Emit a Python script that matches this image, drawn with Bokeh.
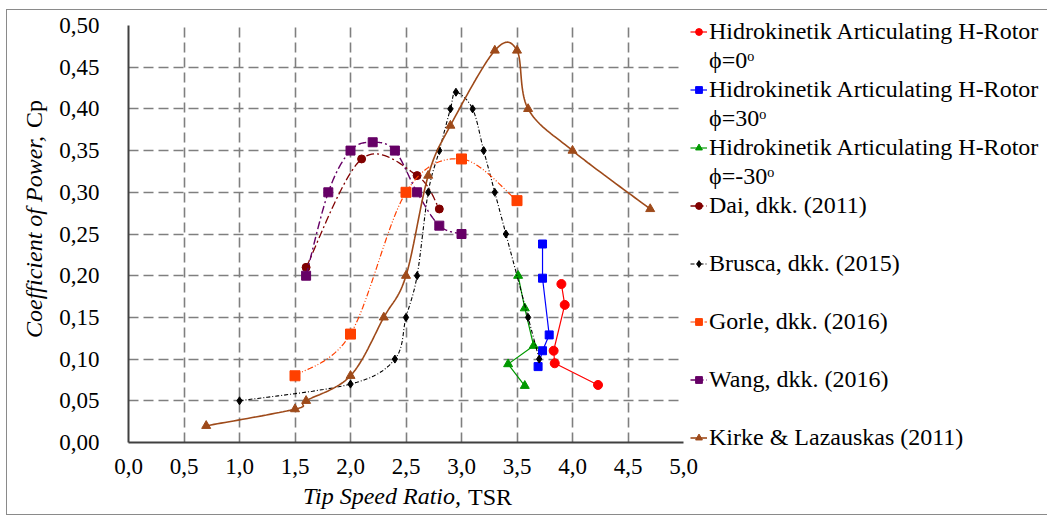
import numpy as np
from bokeh.plotting import figure
from bokeh.models import (Range1d, FixedTicker, CustomJSTickFormatter, Legend,
                          LegendItem, LinearAxis)
from bokeh.embed import file_html
from bokeh.resources import INLINE

# ---------------- data ----------------
x_ticks = [0.0, 0.5, 1.0, 1.5, 2.0, 2.5, 3.0, 3.5, 4.0, 4.5, 5.0]
x_labels = ["0,0", "0,5", "1,0", "1,5", "2,0", "2,5", "3,0", "3,5", "4,0", "4,5", "5,0"]
y_ticks = [0.0, 0.05, 0.10, 0.15, 0.20, 0.25, 0.30, 0.35, 0.40, 0.45, 0.50]
y_labels = ["0,00", "0,05", "0,10", "0,15", "0,20", "0,25", "0,30", "0,35", "0,40", "0,45", "0,50"]

h0_x = [3.90, 3.93, 3.83, 3.84, 4.23]
h0_y = [0.190, 0.165, 0.110, 0.095, 0.069]

h30_x = [3.73, 3.73, 3.79, 3.73, 3.69]
h30_y = [0.238, 0.197, 0.129, 0.110, 0.091]

hm30_x = [3.51, 3.57, 3.65, 3.42, 3.57]
hm30_y = [0.200, 0.161, 0.116, 0.094, 0.068]

dai_x = [1.6, 2.1, 2.6, 2.8]
dai_y = [0.21, 0.34, 0.32, 0.28]

brusca_x = [1.0, 2.0, 2.4, 2.5, 2.6, 2.7, 2.8, 2.9, 2.95, 3.1, 3.2, 3.3, 3.4, 3.6, 3.7]
brusca_y = [0.05, 0.07, 0.10, 0.15, 0.20, 0.30, 0.35, 0.40, 0.42, 0.40, 0.35, 0.30, 0.25, 0.15, 0.10]

gorle_x = [1.5, 2.0, 2.5, 3.0, 3.5]
gorle_y = [0.08, 0.13, 0.30, 0.34, 0.29]

wang_x = [1.6, 1.8, 2.0, 2.2, 2.4, 2.6, 2.8, 3.0]
wang_y = [0.20, 0.30, 0.35, 0.36, 0.35, 0.30, 0.26, 0.25]

kirke_x = [0.7, 1.5, 1.6, 2.0, 2.3, 2.5, 2.7, 2.9, 3.3, 3.5, 3.6, 4.0, 4.7]
kirke_y = [0.02, 0.04, 0.05, 0.08, 0.15, 0.20, 0.32, 0.38, 0.47, 0.47, 0.40, 0.35, 0.28]

series_names = [
    "Hidrokinetik Articulating H-Rotor",
    "Hidrokinetik Articulating H-Rotor",
    "Hidrokinetik Articulating H-Rotor",
    "Dai, dkk. (2011)",
    "Brusca, dkk. (2015)",
    "Gorle, dkk. (2016)",
    "Wang, dkk. (2016)",
    "Kirke & Lazauskas (2011)",
]
second_lines = ["ϕ=0ᵒ", "ϕ=30ᵒ", "ϕ=-30ᵒ", "", "", "", "", ""]

x_title_italic = "Tip Speed Ratio,"
x_title_plain = "TSR"
y_title_italic = "Coefficient of Power,"
y_title_plain = "Cp"


def smooth(xs, ys, n=24):
    """Excel-style smoothed line (Catmull-Rom Bezier) through the given points."""
    pts = np.column_stack([xs, ys]).astype(float)
    m = len(pts)
    out = [pts[0]]
    for i in range(m - 1):
        p0 = pts[i - 1] if i > 0 else pts[i]
        p1 = pts[i]
        p2 = pts[i + 1]
        p3 = pts[i + 2] if i + 2 < m else pts[i + 1]
        c1 = p1 + (p2 - p0) / 6.0
        c2 = p2 - (p3 - p1) / 6.0
        for t in np.linspace(0, 1, n)[1:]:
            b = ((1 - t) ** 3) * p1 + 3 * ((1 - t) ** 2) * t * c1 + 3 * (1 - t) * t * t * c2 + (t ** 3) * p2
            out.append(b)
    out = np.array(out)
    return out[:, 0], out[:, 1]


FONT = "'Liberation Serif', 'Times New Roman', serif"
NB = "\u00a0"
TITLE_SIZE = "24px"

p = figure(frame_width=555, frame_height=417, x_range=Range1d(0, 5), y_range=Range1d(0, 0.5),
           output_backend="svg", toolbar_location=None,
           min_border_left=121, min_border_right=0, min_border_top=15, min_border_bottom=72)
p.styles = {"border": "1px solid #8a8a8a", "margin-left": "6px", "margin-top": "9px"}
p.outline_line_color = None
p.background_fill_color = "white"
p.border_fill_color = "white"

# grid
for g, t in ((p.xgrid, x_ticks), (p.ygrid, y_ticks)):
    g.ticker = FixedTicker(ticks=t)
    g.grid_line_color = "#7f7f7f"
    g.grid_line_width = 1.6
    g.grid_line_dash = "10 5"

# axes
p.xaxis.ticker = FixedTicker(ticks=x_ticks)
p.yaxis.ticker = FixedTicker(ticks=y_ticks)
p.xaxis.formatter = CustomJSTickFormatter(args=dict(t=x_ticks, labels=x_labels), code="""
    let k = 0; for (let i = 0; i < t.length; i++) { if (Math.abs(t[i] - tick) < 1e-9) k = i; }
    return labels[k];""")
p.yaxis.formatter = CustomJSTickFormatter(args=dict(t=y_ticks, labels=y_labels), code="""
    let k = 0; for (let i = 0; i < t.length; i++) { if (Math.abs(t[i] - tick) < 1e-9) k = i; }
    return labels[k];""")
for ax in (p.xaxis, p.yaxis):
    ax.axis_line_color = "#404040"
    ax.axis_line_width = 2
    ax.major_tick_line_color = None
    ax.minor_tick_line_color = None
    ax.major_label_text_font = FONT
    ax.major_label_text_font_size = "23px"
    ax.major_label_text_color = "black"
    ax.axis_label_text_font = FONT
    ax.axis_label_text_font_size = TITLE_SIZE
    ax.axis_label_text_font_style = "italic"
    ax.axis_label_text_color = "black"
p.xaxis.major_label_standoff = 10
p.yaxis.major_label_standoff = 23
p.xaxis.axis_label_standoff = 6
p.yaxis.axis_label_standoff = 9
# italic part of the titles, padded with no-break spaces so the upright part fits after it
p.xaxis.axis_label = x_title_italic + NB * 8
p.yaxis.axis_label = NB * 5 + y_title_italic + NB * 6

# upright parts of the titles on helper axes (no line, ticks or labels)
xa2 = LinearAxis(axis_label=NB * 28 + x_title_plain, ticker=FixedTicker(ticks=[]),
                 axis_line_color=None, major_tick_line_color=None, minor_tick_line_color=None,
                 major_label_text_font_size="0px", axis_label_standoff=-28,
                 axis_label_text_font=FONT, axis_label_text_font_size=TITLE_SIZE,
                 axis_label_text_font_style="normal", axis_label_text_color="black")
ya2 = LinearAxis(axis_label=NB * 40 + y_title_plain, ticker=FixedTicker(ticks=[]),
                 axis_line_color=None, major_tick_line_color=None, minor_tick_line_color=None,
                 major_label_text_font_size="0px", axis_label_standoff=-28,
                 axis_label_text_font=FONT, axis_label_text_font_size=TITLE_SIZE,
                 axis_label_text_font_style="normal", axis_label_text_color="black")
p.add_layout(xa2, "below")
p.add_layout(ya2, "left")

styles = [
    dict(x=h0_x, y=h0_y, color="#FF0000", marker="circle", size=9, dash="solid", width=1.2, sm=False),
    dict(x=h30_x, y=h30_y, color="#0000FF", marker="square", size=8, dash="solid", width=1.2, sm=False),
    dict(x=hm30_x, y=hm30_y, color="#009900", marker="triangle", size=9, dash="solid", width=1.2, sm=False),
    dict(x=dai_x, y=dai_y, color="#800000", marker="circle", size=8, dash="8 3 2 3", width=1.3, sm=True),
    dict(x=brusca_x, y=brusca_y, color="#000000", marker="diamond", size=8, dash="4 2 1 2", width=1.1, sm=True),
    dict(x=gorle_x, y=gorle_y, color="#FF4000", marker="square", size=10, dash="6 2 1 2 1 2", width=1.2, sm=True),
    dict(x=wang_x, y=wang_y, color="#660066", marker="square", size=9, dash="8 3 2 3", width=1.4, sm=True),
    dict(x=kirke_x, y=kirke_y, color="#9E4A1A", marker="triangle", size=9, dash="solid", width=1.6, sm=True),
]

items = []
for name, second, s in zip(series_names, second_lines, styles):
    if s["sm"]:
        lx, ly = smooth(s["x"], s["y"])
    else:
        lx, ly = s["x"], s["y"]
    lr = p.line(lx, ly, line_color=s["color"], line_width=s["width"], line_dash=s["dash"])
    sr = p.scatter(s["x"], s["y"], marker=s["marker"], size=s["size"],
                   fill_color=s["color"], line_color=s["color"])
    items.append(LegendItem(label=name, renderers=[lr, sr]))
    dummy = p.line([], [], line_alpha=0)
    items.append(LegendItem(label=second, renderers=[dummy]))
items = items[:-1]

legend = Legend(items=items, location=(7, -10), orientation="vertical", margin=0, padding=0,
                spacing=0, glyph_width=17, glyph_height=29, label_height=29, label_standoff=2,
                border_line_color=None, background_fill_alpha=0,
                label_text_font=FONT, label_text_font_size="24px", label_text_color="black")
p.add_layout(legend, "right")

open("out.html", "w").write(file_html(p, INLINE))
